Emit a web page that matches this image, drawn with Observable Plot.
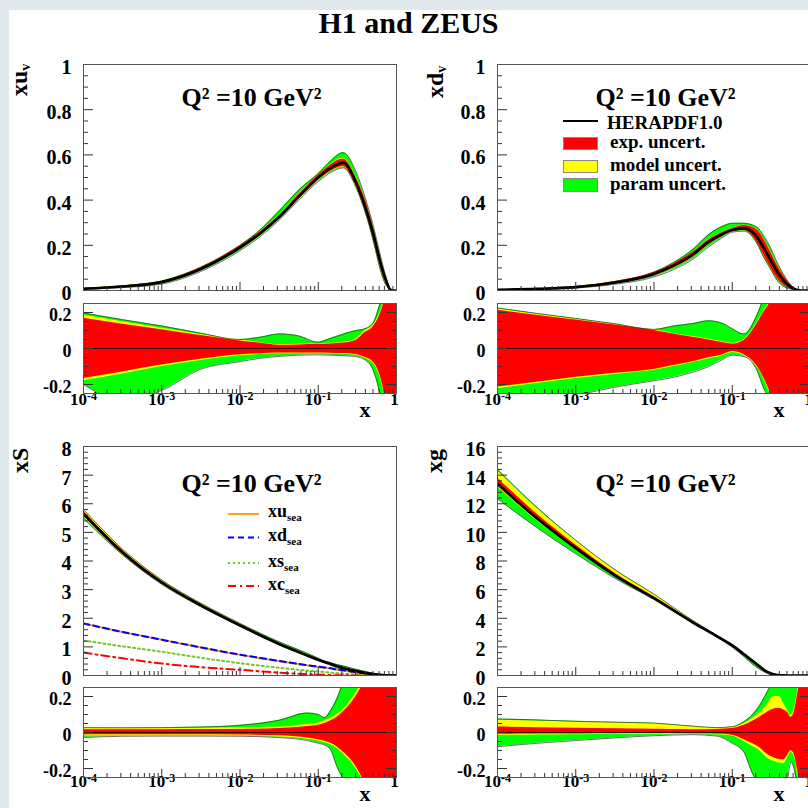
<!DOCTYPE html>
<html><head><meta charset="utf-8">
<script src="https://cdn.jsdelivr.net/npm/d3@7"></script>
<script src="https://cdn.jsdelivr.net/npm/@observablehq/plot@0.6"></script>
<style>
html,body{margin:0;padding:0;}
body{width:808px;height:808px;overflow:hidden;background:#dfe9ee;position:relative;font-family:'Liberation Serif','Times New Roman',serif;font-weight:bold;}
#sheet{position:absolute;left:9px;top:10px;width:830px;height:830px;background:#fff;}
.a{position:absolute;white-space:nowrap;line-height:1;color:#000;}
.rot{transform-origin:0 0;transform:rotate(-90deg);font-size:24px;}
.rot span.s{font-size:14px;position:relative;top:3px;}
.lg{font-size:19px;line-height:18px;}
.sl{font-size:18px;}
.sl span.s{font-size:11px;position:relative;top:4px;}
.box{position:absolute;box-sizing:border-box;border:1px solid #888;width:35px;left:563px;}
</style></head>
<body>
<div id="sheet"></div>
<script>
// ---------------- DATA (log10 x grids, central values, relative uncertainties) ----------------
// xu_v
const uvLogX    = [-4,-3.5,-3,-2.5,-2,-1.75,-1.5,-1.25,-1,-0.85,-0.68,-0.52,-0.4,-0.3,-0.21,-0.16,-0.125,-0.08,-0.04,0];
const uvCentral = [0.008,0.018,0.037,0.095,0.19,0.25,0.325,0.415,0.5,0.54,0.565,0.48,0.37,0.255,0.13,0.07,0.037,0.004,0,0];
const uvExpUp   = [0.168,0.135,0.104,0.072,0.042,0.03,0.018,0.02,0.023,0.025,0.03,0.045,0.09,0.12,0.19,0.26,0.35,0.5,0.6,0.6];
const uvExpDn   = [-0.166,-0.13,-0.092,-0.06,-0.035,-0.03,-0.025,-0.025,-0.025,-0.026,-0.028,-0.033,-0.05,-0.075,-0.15,-0.24,-0.35,-0.5,-0.6,-0.6];
const uvModUp   = [0.185,0.148,0.112,0.078,0.047,0.034,0.022,0.024,0.027,0.029,0.035,0.052,0.1,0.13,0.2,0.27,0.36,0.5,0.6,0.6];
const uvModDn   = [-0.179,-0.142,-0.1,-0.066,-0.04,-0.034,-0.029,-0.029,-0.029,-0.03,-0.032,-0.038,-0.056,-0.082,-0.16,-0.25,-0.36,-0.5,-0.6,-0.6];
const uvParUp   = [0.197,0.16,0.125,0.085,0.05,0.062,0.081,0.07,0.035,0.055,0.08,0.1,0.11,0.14,0.25,0.32,0.4,0.5,0.6,0.6];
const uvParDn   = [-0.2,-0.29,-0.233,-0.115,-0.073,-0.055,-0.044,-0.037,-0.035,-0.037,-0.04,-0.045,-0.064,-0.12,-0.26,-0.4,-0.5,-0.6,-0.6,-0.6];
// xd_v
const dvLogX    = [-4,-3.5,-3,-2.5,-2,-1.75,-1.5,-1.3,-1.12,-1,-0.85,-0.68,-0.6,-0.51,-0.43,-0.35,-0.25,-0.18,-0.12,0];
const dvCentral = [0.003,0.007,0.015,0.035,0.073,0.11,0.16,0.215,0.25,0.268,0.275,0.235,0.19,0.135,0.085,0.047,0.015,0.003,0,0];
const dvExpUp   = [0.212,0.185,0.158,0.13,0.1,0.08,0.062,0.047,0.033,0.025,0.045,0.14,0.2,0.26,0.35,0.45,0.6,0.6,0.6,0.6];
const dvExpDn   = [-0.214,-0.187,-0.16,-0.138,-0.116,-0.095,-0.073,-0.052,-0.035,-0.017,-0.035,-0.1,-0.16,-0.25,-0.35,-0.45,-0.6,-0.6,-0.6,-0.6];
const dvModUp   = [0.221,0.192,0.164,0.135,0.104,0.084,0.066,0.051,0.037,0.029,0.05,0.146,0.206,0.27,0.36,0.46,0.6,0.6,0.6,0.6];
const dvModDn   = [-0.223,-0.195,-0.167,-0.144,-0.121,-0.1,-0.078,-0.057,-0.04,-0.022,-0.04,-0.106,-0.166,-0.26,-0.36,-0.46,-0.6,-0.6,-0.6,-0.6];
const dvParUp   = [0.225,0.195,0.167,0.137,0.106,0.125,0.139,0.154,0.139,0.11,0.081,0.19,0.28,0.4,0.5,0.6,0.6,0.6,0.6,0.6];
const dvParDn   = [-0.3,-0.29,-0.26,-0.215,-0.179,-0.16,-0.131,-0.1,-0.06,-0.037,-0.045,-0.125,-0.22,-0.3,-0.45,-0.6,-0.6,-0.6,-0.6,-0.6];
// xS (sea) and its flavours
const sLogX     = [-4,-3.5,-3,-2.5,-2,-1.5,-1.14,-1,-0.92,-0.84,-0.76,-0.68,-0.55,-0.44,-0.3,-0.15,0];
const sCentral  = [5.65,4.3,3.25,2.45,1.75,1.1,0.7,0.55,0.47,0.4,0.32,0.26,0.17,0.11,0.05,0.01,0];
const uSea      = [1.82,1.52,1.25,0.98,0.72,0.5,0.35,0.3,0.27,0.24,0.2,0.17,0.12,0.08,0.04,0.01,0];
const dSea      = [1.82,1.52,1.25,0.98,0.73,0.51,0.36,0.31,0.28,0.25,0.21,0.18,0.13,0.09,0.04,0.01,0];
const sSea      = [1.22,1.02,0.83,0.62,0.43,0.27,0.17,0.14,0.12,0.1,0.08,0.065,0.04,0.025,0.01,0,0];
const cSea      = [0.8,0.6,0.42,0.29,0.2,0.1,0.045,0.03,0.022,0.015,0.01,0.006,0.002,0,0,0,0];
const sExpUp    = [0.015,0.015,0.015,0.016,0.017,0.022,0.033,0.04,0.05,0.065,0.085,0.115,0.18,0.26,0.4,0.6,0.6];
const sExpDn    = [-0.012,-0.012,-0.012,-0.013,-0.014,-0.018,-0.03,-0.04,-0.048,-0.06,-0.08,-0.11,-0.17,-0.25,-0.4,-0.6,-0.6];
const sModUp    = [0.026,0.025,0.025,0.025,0.026,0.03,0.045,0.053,0.065,0.08,0.1,0.13,0.2,0.28,0.42,0.6,0.6];
const sModDn    = [-0.02,-0.019,-0.019,-0.019,-0.02,-0.025,-0.037,-0.047,-0.055,-0.068,-0.088,-0.12,-0.18,-0.26,-0.42,-0.6,-0.6];
const sParUp    = [0.027,0.026,0.027,0.03,0.04,0.068,0.108,0.1,0.083,0.123,0.19,0.28,0.4,0.5,0.6,0.6,0.6];
const sParDn    = [-0.028,-0.021,-0.02,-0.02,-0.021,-0.028,-0.045,-0.06,-0.07,-0.097,-0.19,-0.26,-0.4,-0.5,-0.6,-0.6,-0.6];
// xg
const gLogX     = [-4,-3.5,-3,-2.5,-2,-1.5,-1.2,-1,-0.85,-0.75,-0.65,-0.56,-0.47,-0.4,-0.34,-0.29,-0.25,-0.21,-0.17,-0.12,-0.08,-0.04,0];
const gCentral  = [13.4,11.0,8.9,7.0,5.4,3.7,2.75,2.1,1.48,1.05,0.62,0.27,0.08,0.02,0.006,0.003,0.002,0.001,0.001,0,0,0,0];
const gExpUp    = [0.03,0.027,0.024,0.021,0.018,0.015,0.017,0.022,0.04,0.06,0.085,0.11,0.13,0.135,0.125,0.11,0.085,0.11,0.2,0.35,0.6,0.6,0.6];
const gExpDn    = [-0.01,-0.009,-0.008,-0.007,-0.006,-0.007,-0.009,-0.015,-0.04,-0.06,-0.085,-0.12,-0.14,-0.15,-0.152,-0.125,-0.1,-0.12,-0.2,-0.35,-0.6,-0.6,-0.6];
const gModUp    = [0.068,0.064,0.059,0.054,0.05,0.033,0.026,0.03,0.05,0.075,0.11,0.15,0.2,0.2,0.16,0.12,0.095,0.13,0.22,0.4,0.6,0.6,0.6];
const gModDn    = [-0.016,-0.014,-0.012,-0.011,-0.01,-0.01,-0.012,-0.02,-0.05,-0.075,-0.1,-0.14,-0.16,-0.17,-0.172,-0.14,-0.11,-0.13,-0.22,-0.4,-0.6,-0.6,-0.6];
const gParUp    = [0.075,0.07,0.062,0.057,0.052,0.035,0.027,0.032,0.06,0.095,0.15,0.22,0.3,0.4,0.5,0.6,0.6,0.6,0.6,0.6,0.6,0.6,0.6];
const gParDn    = [-0.079,-0.06,-0.045,-0.03,-0.018,-0.012,-0.02,-0.06,-0.11,-0.22,-0.3,-0.4,-0.45,-0.45,-0.35,-0.25,-0.165,-0.2,-0.3,-0.5,-0.6,-0.6,-0.6];

// tick values and labels
const valenceTicks  = [0,0.2,0.4,0.6,0.8,1];
const valenceLabels = ["0","0.2","0.4","0.6","0.8","1"];
const seaTicks      = [0,1,2,3,4,5,6,7,8];
const seaLabels     = ["0","1","2","3","4","5","6","7","8"];
const gluonTicks    = [0,2,4,6,8,10,12,14,16];
const gluonLabels   = ["0","2","4","6","8","10","12","14","16"];
const ratioTicks    = [-0.2,0,0.2];
const ratioLabels   = ["-0.2","0","0.2"];
const decades       = [1e-4,1e-3,1e-2,1e-1];
const decadeExp     = ["-4","-3","-2","-1"];
const qLabel        = "Q\u00B2 =10 GeV\u00B2";

// ---------------- drawing ----------------
const FONT = "'Liberation Serif','Times New Roman',serif";
const curve = "monotone-x";
const FW = 313;
const minorX = decades.flatMap(d => [2,3,4,5,6,7,8,9].map(m => m * d));

function mk(logx, cols) {
  return logx.map((lx, i) => {
    const o = {x: Math.pow(10, lx)};
    for (const k in cols) o[k] = cols[k][i];
    return o;
  });
}
const uvData = mk(uvLogX, {c: uvCentral, eu: uvExpUp, ed: uvExpDn, mu: uvModUp, md: uvModDn, pu: uvParUp, pd: uvParDn});
const dvData = mk(dvLogX, {c: dvCentral, eu: dvExpUp, ed: dvExpDn, mu: dvModUp, md: dvModDn, pu: dvParUp, pd: dvParDn});
const sData  = mk(sLogX,  {c: sCentral, eu: sExpUp, ed: sExpDn, mu: sModUp, md: sModDn, pu: sParUp, pd: sParDn, us: uSea, ds: dSea, ss: sSea, cs: cSea});
const gData  = mk(gLogX,  {c: gCentral, eu: gExpUp, ed: gExpDn, mu: gModUp, md: gModDn, pu: gParUp, pd: gParDn});

function zip(vals, labels) { return vals.map((v, i) => ({v, label: labels[i]})); }

function bands(data, acc) {
  return [
    Plot.areaY(data, {x: "x", y1: acc("pd"), y2: acc("pu"), fill: "#00ff00", curve, clip: true}),
    Plot.areaY(data, {x: "x", y1: acc("md"), y2: acc("mu"), fill: "#ffff00", curve, clip: true}),
    Plot.areaY(data, {x: "x", y1: acc("ed"), y2: acc("eu"), fill: "#ff0000", curve, clip: true}),
    Plot.lineY(data, {x: "x", y: acc("pu"), stroke: "#333", strokeWidth: 0.7, curve, clip: true}),
    Plot.lineY(data, {x: "x", y: acc("pd"), stroke: "#333", strokeWidth: 0.7, curve, clip: true})
  ];
}

function place(svg, left, top) {
  svg.style.position = "absolute";
  svg.style.left = left + "px";
  svg.style.top = top + "px";
  svg.style.maxWidth = "none";
  svg.style.background = "transparent";
  svg.style.overflow = "visible";
  document.body.appendChild(svg);
}

function mainPanel(p) {
  const H = p.bot - p.top, ML = 80, MT = 16, MR = 8, MB = 14;
  const majorSet = new Set(p.ticks);
  const step = p.minor;
  const minors = d3.range(0, p.ymax + step / 2, step).map(v => +v.toFixed(4)).filter(v => !majorSet.has(v));
  const rel = k => (r => r.c * (1 + r[k]));
  const marks = [
    ...bands(p.data, rel),
    ...(p.extra || []),
    Plot.lineY(p.data, {x: "x", y: "c", stroke: "#000", strokeWidth: 2.6, curve, clip: true}),
    Plot.tickY(minors, {y: d => d, insetRight: FW - 5, stroke: "#333"}),
    Plot.tickY(p.ticks, {y: d => d, insetRight: FW - 10, stroke: "#333"}),
    Plot.tickX(minorX, {x: d => d, insetTop: H - 4, stroke: "#333"}),
    Plot.tickX(decades, {x: d => d, insetTop: H - 8, stroke: "#333"}),
    Plot.text(zip(p.ticks, p.labels), {y: "v", text: "label", frameAnchor: "left", textAnchor: "end", dx: -12, dy: 3, fontSize: 20, fontWeight: "bold", fontFamily: FONT}),
    Plot.text([qLabel], {text: d => d, frameAnchor: "top", dx: 11.5, dy: p.qdy, fontSize: 26, fontWeight: "bold", fontFamily: FONT}),
    Plot.frame({stroke: "#555", strokeWidth: 1})
  ];
  const svg = Plot.plot({
    width: ML + FW + MR, height: MT + H + MB,
    marginLeft: ML, marginTop: MT, marginRight: MR, marginBottom: MB,
    x: {type: "log", domain: [1e-4, 1], axis: null},
    y: {domain: [0, p.ymax], axis: null},
    style: "font-family:" + FONT + ";font-weight:bold;background:transparent;",
    marks
  });
  place(svg, p.left - ML, p.top - MT);
}

function ratioPanel(p) {
  const H = p.rbot - p.rtop, ML = 80, MT = 10, MR = 8, MB = 42;
  const minors = d3.range(-0.2, 0.2001, 0.05).map(v => +v.toFixed(3)).filter(v => Math.abs(v) > 1e-9 && Math.abs(Math.abs(v) - 0.2) > 1e-9);
  const fs = 17, efs = 12, base = p.xbase;
  const marks = [
    ...bands(p.data, k => k),
    Plot.ruleY([0], {stroke: "#000", strokeWidth: 0.8}),
    Plot.tickY(minors, {y: d => d, insetRight: FW - 5, stroke: "#333"}),
    Plot.tickY(ratioTicks, {y: d => d, insetRight: FW - 10, stroke: "#333"}),
    Plot.tickY(minors, {y: d => d, insetLeft: FW - 5, stroke: "#333"}),
    Plot.tickY(ratioTicks, {y: d => d, insetLeft: FW - 10, stroke: "#333"}),
    Plot.tickX(minorX, {x: d => d, insetTop: H - 4, stroke: "#333"}),
    Plot.tickX(decades, {x: d => d, insetTop: H - 8, stroke: "#333"}),
    Plot.text(zip(ratioTicks, ratioLabels), {y: "v", text: "label", frameAnchor: "left", textAnchor: "end", dx: -12, dy: 3, fontSize: 18, fontWeight: "bold", fontFamily: FONT}),
    Plot.text(decades, {x: d => d, text: () => "10", frameAnchor: "bottom", dx: -5, dy: base - 0.32 * fs, fontSize: fs, fontWeight: "bold", fontFamily: FONT}),
    Plot.text(decades, {x: d => d, text: (d, i) => decadeExp[i], frameAnchor: "bottom", textAnchor: "start", dx: 3.5, dy: base - 7 - 0.32 * efs, fontSize: efs, fontWeight: "bold", fontFamily: FONT}),
    Plot.text([1], {x: d => d, text: () => "1", frameAnchor: "bottom", dx: -2, dy: base - 0.32 * fs, fontSize: fs, fontWeight: "bold", fontFamily: FONT}),
    Plot.text(["x"], {text: d => d, frameAnchor: "bottom-right", dx: -26, dy: 23, fontSize: 22, fontWeight: "bold", fontFamily: FONT}),
    Plot.frame({stroke: "#555", strokeWidth: 1})
  ];
  const svg = Plot.plot({
    width: ML + FW + MR, height: MT + H + MB,
    marginLeft: ML, marginTop: MT, marginRight: MR, marginBottom: MB,
    x: {type: "log", domain: [1e-4, 1], axis: null},
    y: {domain: [-0.25, 0.25], axis: null},
    style: "font-family:" + FONT + ";font-weight:bold;background:transparent;",
    marks
  });
  place(svg, p.left - ML, p.rtop - MT);
}

const seaLines = [
  Plot.lineY(sData, {x: "x", y: "us", stroke: "#ffa020", strokeWidth: 2, curve, clip: true}),
  Plot.lineY(sData, {x: "x", y: "ds", stroke: "#0000ff", strokeWidth: 2, strokeDasharray: "6,4", curve, clip: true}),
  Plot.lineY(sData, {x: "x", y: "ss", stroke: "#70c820", strokeWidth: 2, strokeDasharray: "2,3", curve, clip: true}),
  Plot.lineY(sData, {x: "x", y: "cs", stroke: "#ff0000", strokeWidth: 2, strokeDasharray: "8,4,2,4", curve, clip: true})
];

const panels = [
  {data: uvData, left: 83,  top: 64,  bot: 290, rtop: 303, rbot: 393, ymax: 1,  ticks: valenceTicks, labels: valenceLabels, minor: 0.05, qdy: 22.7, xbase: 17},
  {data: dvData, left: 497, top: 64,  bot: 290, rtop: 303, rbot: 393, ymax: 1,  ticks: valenceTicks, labels: valenceLabels, minor: 0.05, qdy: 22.7, xbase: 17},
  {data: sData,  left: 83,  top: 446, bot: 675, rtop: 687, rbot: 777, ymax: 8,  ticks: seaTicks,     labels: seaLabels,     minor: 0.2,  qdy: 26.7, xbase: 15, extra: seaLines},
  {data: gData,  left: 497, top: 446, bot: 675, rtop: 687, rbot: 777, ymax: 16, ticks: gluonTicks,   labels: gluonLabels,   minor: 0.4,  qdy: 26.7, xbase: 15}
];
for (const p of panels) { mainPanel(p); ratioPanel(p); }

// ---------------- text overlays (title, axis titles, legends) ----------------
const html = `
<div class="a" style="left:0;top:8px;width:817px;text-align:center;font-size:30px">H1 and ZEUS</div>
<div class="a rot" style="left:7px;top:96px">xu<span class="s">v</span></div>
<div class="a rot" style="left:423px;top:98px">xd<span class="s">v</span></div>
<div class="a rot" style="left:8px;top:473px">xS</div>
<div class="a rot" style="left:422px;top:473px">xg</div>

<div class="a" style="left:563px;top:120px;width:35px;height:2px;background:#000"></div>
<div class="a lg" style="left:607px;top:114px">HERAPDF1.0</div>
<div class="box" style="top:137px;height:13px;background:#ff0000"></div>
<div class="a lg" style="left:610px;top:133px">exp. uncert.</div>
<div class="box" style="top:160px;height:13px;background:#ffff00"></div>
<div class="a lg" style="left:610px;top:156px">model uncert.</div>
<div class="box" style="top:178px;height:14px;background:#00ff00"></div>
<div class="a lg" style="left:610px;top:175px">param uncert.</div>

<svg class="a" style="left:228px;top:508px" width="32" height="84">
  <line x1="0" x2="31" y1="6" y2="6" stroke="#ffa020" stroke-width="2"/>
  <line x1="0" x2="31" y1="29.5" y2="29.5" stroke="#0000ff" stroke-width="2" stroke-dasharray="6,4"/>
  <line x1="0" x2="31" y1="55" y2="55" stroke="#70c820" stroke-width="2" stroke-dasharray="2,3"/>
  <line x1="0" x2="31" y1="78" y2="78" stroke="#ff0000" stroke-width="2" stroke-dasharray="8,4,2,4"/>
</svg>
<div class="a sl" style="left:268px;top:502px">xu<span class="s">sea</span></div>
<div class="a sl" style="left:268px;top:526px">xd<span class="s">sea</span></div>
<div class="a sl" style="left:268px;top:552px">xs<span class="s">sea</span></div>
<div class="a sl" style="left:268px;top:575px">xc<span class="s">sea</span></div>
`;
const overlay = document.createElement("div");
overlay.innerHTML = html;
while (overlay.firstElementChild) document.body.appendChild(overlay.firstElementChild);
</script>
</body></html>
